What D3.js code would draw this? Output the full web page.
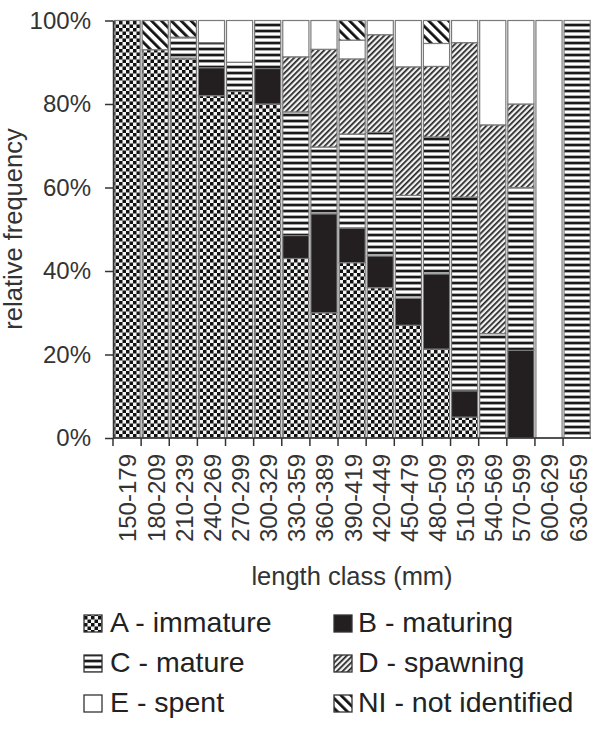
<!DOCTYPE html>
<html>
<head>
<meta charset="utf-8">
<script src="https://cdn.jsdelivr.net/npm/d3@7/dist/d3.min.js"></script>
<style>
  html, body { margin: 0; padding: 0; background: #fff; }
  svg { display: block; }
  text { font-family: "Liberation Sans", Arial, sans-serif; }
</style>
</head>
<body>
<svg id="chart" width="591" height="734"></svg>
<script>
// ---- data (percent of each length class) ----
const categories = ["150-179","180-209","210-239","240-269","270-299","300-329","330-359","360-389","390-419","420-449","450-479","480-509","510-539","540-569","570-599","600-629","630-659"];
const stageA  = [100, 93, 91, 82,   83, 80,   43,   30,   42,   36,   27,   21.3, 5,    0,  0,  0,   0];
const stageB  = [0,   0,  0,  6.7,  0,  8.5,  5.5,  23.7, 8.3,  7.6,  6.5,  18,   6.3,  0,  21, 0,   0];
const stageC  = [0,   0,  5,  6,    7,  11.5, 29.6, 16,   22.5, 29.6, 24.6, 32.8, 46.4, 25, 39, 0,   100];
const stageD  = [0,   0,  0,  0,    0,  0,    13.2, 23.4, 18,   23.4, 30.8, 16.9, 37,   50, 20, 0,   0];
const stageE  = [0,   0,  0,  5.3,  10, 0,    8.7,  6.9,  4.5,  3.4,  11.1, 5.5,  5.3,  25, 20, 100, 0];
const stageNI = [0,   7,  4,  0,    0,  0,    0,    0,    4.7,  0,    0,    5.5,  0,    0,  0,  0,   0];
const seriesKeys = ["A","B","C","D","E","NI"];
const legendLabels = ["A - immature","B - maturing","C - mature","D - spawning","E - spent","NI - not identified"];
const yTicks = [0, 20, 40, 60, 80, 100];

// ---- build table ----
const seriesValues = {A: stageA, B: stageB, C: stageC, D: stageD, E: stageE, NI: stageNI};
const table = categories.map((c, i) => {
  const row = {cat: c};
  seriesKeys.forEach(k => row[k] = seriesValues[k][i]);
  return row;
});

const svg = d3.select("#chart");
const defs = svg.append("defs");

// patterns
const pA = defs.append("pattern").attr("id","pat-A").attr("patternUnits","userSpaceOnUse")
  .attr("width",7).attr("height",7);
pA.append("rect").attr("width",7).attr("height",7).attr("fill","#f4f4f4");
pA.append("rect").attr("x",0).attr("y",0).attr("width",3.5).attr("height",3.5).attr("fill","#111");
pA.append("rect").attr("x",3.5).attr("y",3.5).attr("width",3.5).attr("height",3.5).attr("fill","#111");

const pC = defs.append("pattern").attr("id","pat-C").attr("patternUnits","userSpaceOnUse")
  .attr("width",6).attr("height",6);
pC.append("rect").attr("width",6).attr("height",6).attr("fill","#fff");
pC.append("rect").attr("y",0).attr("width",6).attr("height",2.2).attr("fill","#1a1a1a");
pC.append("rect").attr("y",2.2).attr("width",6).attr("height",0.8).attr("fill","#9a9a9a");
pC.append("rect").attr("y",5.2).attr("width",6).attr("height",0.8).attr("fill","#9a9a9a");

const pD = defs.append("pattern").attr("id","pat-D").attr("patternUnits","userSpaceOnUse")
  .attr("width",4).attr("height",4).attr("patternTransform","rotate(45)");
pD.append("rect").attr("width",4).attr("height",4).attr("fill","#f2f2f2");
pD.append("rect").attr("x",0).attr("width",1.7).attr("height",4).attr("fill","#222");

const pNI = defs.append("pattern").attr("id","pat-NI").attr("patternUnits","userSpaceOnUse")
  .attr("width",7).attr("height",7).attr("patternTransform","rotate(-45)");
pNI.append("rect").attr("width",7).attr("height",7).attr("fill","#fff");
pNI.append("rect").attr("x",0).attr("width",2.8).attr("height",7).attr("fill","#111");

const fills = {A:"url(#pat-A)", B:"#231f20", C:"url(#pat-C)", D:"url(#pat-D)", E:"#ffffff", NI:"url(#pat-NI)"};

// ---- scales ----
const x = d3.scaleBand().domain(categories).range([113, 591.2]).paddingInner(0.07).paddingOuter(0.035);
const y = d3.scaleLinear().domain([0, 100]).range([438, 20.5]);

const stack = d3.stack().keys(seriesKeys);
const stacked = stack(table);

// ---- bars ----
const g = svg.append("g");
stacked.forEach(layer => {
  g.selectAll(null).data(layer.filter(d => d[1] - d[0] > 0)).enter().append("rect")
    .attr("x", d => x(d.data.cat))
    .attr("width", x.bandwidth())
    .attr("y", d => y(d[1]))
    .attr("height", d => y(d[0]) - y(d[1]))
    .attr("fill", fills[layer.key])
    .attr("stroke", "#7a7a7a")
    .attr("stroke-width", 1.2);
});

// ---- y axis ----
const yAxis = svg.append("g").attr("transform","translate(113,0)")
  .call(d3.axisLeft(y).tickValues(yTicks).tickFormat(d => d + "%").tickSize(8).tickSizeOuter(0).tickPadding(14));
yAxis.select(".domain").attr("stroke","#333").attr("stroke-width",1.5);
yAxis.selectAll(".tick line").attr("stroke","#333").attr("stroke-width",1.5);
yAxis.selectAll(".tick text").attr("font-size",24).attr("fill","#333")
  .attr("font-family","'Liberation Sans', Arial, sans-serif");

// ---- x axis ----
const step = x.step();
const x0 = x.range()[0];
const xAxis = svg.append("g").attr("transform","translate(0,438)");
xAxis.append("line").attr("x1", x0).attr("x2", x.range()[1]).attr("y1",0).attr("y2",0)
  .attr("stroke","#333").attr("stroke-width",1.5);
xAxis.selectAll("line.tk").data(categories).enter().append("line").attr("class","tk")
  .attr("x1", (d,i) => x0 + i*step).attr("x2", (d,i) => x0 + i*step)
  .attr("y1", 0).attr("y2", 8).attr("stroke","#333").attr("stroke-width",1.5);
xAxis.selectAll("text.lbl").data(categories).enter().append("text").attr("class","lbl")
  .attr("transform", d => `translate(${x(d) + x.bandwidth()/2 + 1},${16}) rotate(-90)`)
  .attr("text-anchor","end").attr("dy","0.35em")
  .attr("font-size",24).attr("fill","#333").text(d => d);

// ---- axis titles ----
svg.append("text").attr("x", 352).attr("y", 585).attr("text-anchor","middle")
  .attr("font-size",25.5).attr("fill","#333").text("length class (mm)");
svg.append("text").attr("transform","translate(22,229) rotate(-90)").attr("text-anchor","middle")
  .attr("font-size",25.5).attr("fill","#333").text("relative frequency");

// ---- legend ----
const legend = svg.append("g");
seriesKeys.forEach((k, i) => {
  const col = i % 2, row = Math.floor(i / 2);
  const sx = col === 0 ? 84 : 334;
  const by = 632 + row * 40;
  legend.append("rect").attr("x", sx).attr("y", by - 17).attr("width", 18).attr("height", 17)
    .attr("fill", fills[k]).attr("stroke","#333").attr("stroke-width",1.3);
  legend.append("text").attr("x", col === 0 ? 110 : 358).attr("y", by)
    .attr("font-size", 28.5).attr("fill","#222").text(legendLabels[i]);
});
</script>
</body>
</html>
